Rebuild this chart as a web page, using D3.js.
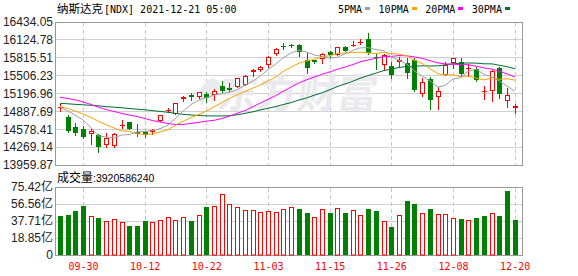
<!DOCTYPE html>
<html>
<head>
<meta charset="utf-8">
<script src="https://cdn.jsdelivr.net/npm/d3@7/dist/d3.min.js"></script>
<style>
  html, body { margin: 0; padding: 0; background: #fff; }
  svg { display: block; }
</style>
</head>
<body>
<div id="chart"></div>
<script>
// trading days on the chart (2021)
const dates = ['09-27','09-28','09-29','09-30','10-01','10-04','10-05','10-06','10-07','10-08',
  '10-11','10-12','10-13','10-14','10-15','10-18','10-19','10-20','10-21','10-22',
  '10-25','10-26','10-27','10-28','10-29','11-01','11-02','11-03','11-04','11-05',
  '11-08','11-09','11-10','11-11','11-12','11-15','11-16','11-17','11-18','11-19',
  '11-22','11-23','11-24','11-26','11-29','11-30','12-01','12-02','12-03','12-06',
  '12-07','12-08','12-09','12-10','12-13','12-14','12-15','12-16','12-17','12-20'];

const opens = [14946.1,14785.2,14617.3,14582.7,14501.4,14484.1,14305.9,14293.8,14629.5,14698.7,
  14536,14525.6,14536,14726.3,14889,14850.9,15101.8,15171,15131.2,15183.1,
  15165.8,15326.7,15292.1,15314.6,15349.2,15563.8,15603.6,15690.1,15875.2,16024,
  16030.9,16041.3,15781.8,15776.6,15799.1,15915,15868.3,16006.7,16024,16065.5,
  16139.9,15823.3,15698.7,15669.3,15747.2,15728.1,15776.6,15193.5,15447.8,15131.2,
  15517.1,15719.5,15742,15615.7,15620.9,15228.1,15245.4,15633,15062,14951.3];
const highs = [15015.3,14819.8,14686.6,14639.8,14587.9,14496.2,14508.3,14508.3,14743.7,14709,
  14669.3,14536,14582.7,14819.8,14946.1,15037.8,15158.9,15200.4,15222.9,15217.7,
  15274.8,15408,15378.6,15465.1,15517.1,15626.1,15678,15845.8,15984.2,16065.5,
  16053.4,16053.4,15892.5,15781.8,15902.9,15937.5,16006.7,16018.8,16100.1,16139.9,
  16243.7,15902.9,15885.6,15736.8,15831.9,15819.8,15806,15460,15477.3,15314.6,
  15736.8,15811.2,15816.4,15702.2,15655.5,15326.7,15603.6,15660.7,15286.9,15015.3];
const lows = [14889,14530.8,14473.7,14432.2,14328.4,14179.6,14271.3,14271.3,14600,14577.6,
  14466.8,14444.3,14496.2,14716,14876.9,14845.7,15072.4,15089.7,15113.9,15049.9,
  15089.7,15217.7,15245.4,15304.2,15338.8,15494.6,15591.4,15650.3,15857.9,15966.9,
  15996.3,15851,15556.8,15719.5,15724.7,15833.7,15857.9,15927.1,16015.3,16053.4,
  15880.4,15626.1,15608.8,15470.3,15658.9,15468.6,15245.4,15153.7,14923.6,14923.6,
  15517.1,15643.4,15517.1,15499.7,15413.2,15101.8,15072.4,15124.3,14958.2,14864.8];
const closes = [14968.6,14553.3,14513.5,14444.3,14553.3,14266.1,14427,14496.2,14651.9,14587.9,
  14496.2,14473.7,14560.2,14819.8,14911.5,15027.4,15136.4,15131.2,15217.7,15119.1,
  15245.4,15247.1,15252.3,15460,15499.7,15603.6,15660.7,15823.3,15966.9,16015.3,
  16018.8,15915,15643.4,15736.8,15880.4,15863.1,15996.3,15937.5,16041.3,16088,
  15892.5,15811.2,15863.1,15508.4,15785.2,15555.1,15257.5,15395.9,15084.5,15245.4,
  15690.1,15811.2,15529.2,15633,15430.5,15245.4,15586.3,15188.3,15171,14980.7];
// close of the day before the first candle (only sets the first volume bar colour)
const prevClose = 15010;

// volume, in 亿 (1e8)
const lastVolume = 3920586240;
const volumes = [43.3,44.4,48.8,54.3,42.9,40.7,37.4,39.6,36.6,32.2,
  32.2,37.7,36.6,38.5,41.8,38.8,41.8,37.7,44,53.2,
  54,67.7,56.6,52.9,49.6,49.6,47.4,48.5,47.4,50.7,
  52.9,51,46.6,41.8,50.7,46.6,51.8,46.6,49.6,44,
  51,48.8,37.4,31,44,59.9,56.6,46.2,51,45.1,
  45.1,40.7,39.9,38.5,41,43.3,46.6,43.3,71,lastVolume / 1e8];

// moving averages as drawn
const ma5 = [14958,14894,14825,14739,14607,14467,14441,14437,14479,14486,
  14533,14541,14553,14588,14652,14759,14891,15005,15085,15126,
  15169,15192,15216,15264,15341,15413,15495,15609,15711,15813,
  15896,15948,15912,15865,15839,15808,15823,15882,15944,15986,
  15991,15955,15939,15832,15771,15704,15593,15500,15415,15308,
  15335,15446,15472,15581,15619,15529,15484,15417,15325,15235];
const ma10 = [14972,14937,14894,14842,14782,14721,14657,14600,14548,14546,
  14500,14491,14496,14533,14569,14645,14716,14780,14835,14889,
  14963,15041,15110,15174,15233,15290,15344,15413,15488,15578,
  15654,15721,15761,15789,15827,15853,15886,15898,15905,15912,
  15899,15889,15912,15887,15879,15848,15773,15720,15624,15540,
  15519,15519,15486,15498,15463,15432,15465,15444,15453,15427];
const ma20 = [15131,15110,15088,15050,15007,14963,14920,14886,14851,14825,
  14799,14764,14730,14704,14678,14661,14661,14678,14699,14718,
  14732,14766,14802,14854,14901,14969,15029,15097,15162,15233,
  15309,15382,15436,15481,15529,15572,15614,15656,15697,15745,
  15777,15806,15835,15839,15853,15849,15830,15808,15764,15726,
  15709,15704,15699,15694,15671,15640,15619,15583,15538,15482];
const ma30 = [15027,15019,15010,15001,14993,14984,14970,14960,14950,14937,
  14925,14915,14901,14887,14872,14854,14837,14825,14816,14811,
  14808,14808,14811,14828,14854,14880,14911,14941,14972,15005,
  15039,15085,15123,15166,15209,15263,15315,15363,15410,15460,
  15507,15550,15595,15617,15647,15664,15668,15676,15673,15676,
  15692,15711,15720,15725,15723,15711,15709,15687,15661,15626];

const priceTicks = [16434.05,16124.78,15815.51,15506.23,15196.96,14887.69,14578.41,14269.14,13959.87];
const volTicks = [75.42,56.56,37.71,18.85,0];
const xTickLabels = ['09-30','10-12','10-22','11-03','11-15','11-26','12-08','12-20'];
const maNames = ['5PMA','10PMA','20PMA','30PMA'];

const W = 578, H = 276;
const left = 56, right = 522;
const RED = '#ff0000', GREEN = '#008000';
const maColors = ['#a0a0a0', '#f2a500', '#ff00ff', '#006f30'];
const maSeries = [ma5, ma10, ma20, ma30];
const monoFont = '"DejaVu Sans Mono", monospace';
const cjkFont = '"Noto Sans CJK SC", sans-serif';
const numFont = '"Liberation Sans", "Noto Sans CJK SC", sans-serif';

const data = dates.map((d, i) => ({
  date: d, open: opens[i], high: highs[i], low: lows[i], close: closes[i],
  vol: volumes[i], volUp: closes[i] >= (i ? closes[i - 1] : prevClose)
}));

const svg = d3.select('#chart').append('svg').attr('width', W).attr('height', H);
svg.append('rect').attr('width', W).attr('height', H).attr('fill', '#fff');

const x = d3.scaleBand().domain(dates).range([left, 518.5]).paddingInner(0.35).paddingOuter(0.175);
const y = d3.scaleLinear().domain([priceTicks[priceTicks.length - 1], priceTicks[0]]).range([165, 22]);
const vy = d3.scaleLinear().domain([0, volTicks[0]]).range([255, 187]);
const px = v => Math.floor(v) + 0.5;
const cx = d => Math.round(x(d) + x.bandwidth() / 2) + 0.5;

// grid
const grid = svg.append('g').attr('class', 'grid');
grid.selectAll('.hp').data(priceTicks.slice(1, -1)).join('line')
  .attr('x1', left).attr('x2', right)
  .attr('y1', d => px(y(d))).attr('y2', d => px(y(d)))
  .attr('stroke', '#d0d0d0');
grid.selectAll('.hv').data(volTicks.slice(1, -1)).join('line')
  .attr('x1', left).attr('x2', right)
  .attr('y1', d => px(vy(d))).attr('y2', d => px(vy(d)))
  .attr('stroke', '#d0d0d0');
[[22, 165], [187, 255]].forEach(([t, b]) => {
  grid.append('g').selectAll('line').data(xTickLabels).join('line')
    .attr('x1', d => cx(d)).attr('x2', d => cx(d))
    .attr('y1', t + 1).attr('y2', b)
    .attr('stroke', '#c8c8c8').attr('stroke-dasharray', '4,3');
});

// watermark
const mark = svg.append('g').attr('class', 'watermark').attr('fill', '#e9e9ee');
mark.append('path')
  .attr('d', 'M212,78 C200,84 196,96 202,106 C204,98 208,92 214,88 C210,94 209,100 212,104 C214,96 218,90 222,86 C220,82 216,79 212,78 Z');
mark.append('text')
  .attr('x', 217).attr('y', 108)
  .attr('transform', 'skewX(-8) translate(14,0)')
  .style('font-family', cjkFont).style('font-weight', 'bold').style('font-size', '40px')
  .text('东方财富');

// panel borders
svg.append('rect').attr('x', px(left - 1)).attr('y', px(22)).attr('width', right - left + 1).attr('height', 143)
  .attr('fill', 'none').attr('stroke', '#999');
svg.append('rect').attr('x', px(left - 1)).attr('y', px(187)).attr('width', right - left + 1).attr('height', 68)
  .attr('fill', 'none').attr('stroke', '#999');

// candles
const candles = svg.append('g').attr('class', 'candles').selectAll('g').data(data).join('g');
candles.append('line')
  .attr('x1', d => cx(d.date)).attr('x2', d => cx(d.date))
  .attr('y1', d => Math.round(y(d.high))).attr('y2', d => Math.round(y(d.low)) + 1)
  .attr('stroke', d => d.close >= d.open ? RED : GREEN);
candles.each(function(d) {
  const g = d3.select(this);
  const c = cx(d.date);
  const top = Math.round(y(Math.max(d.open, d.close)));
  const bot = Math.round(y(Math.min(d.open, d.close)));
  if (d.close >= d.open) {
    if (bot - top < 2) {
      g.append('line').attr('x1', c - 2.5).attr('x2', c + 2.5)
        .attr('y1', top + 0.5).attr('y2', top + 0.5).attr('stroke', RED);
    } else {
      g.append('rect').attr('x', c - 2).attr('y', top + 0.5)
        .attr('width', 4).attr('height', bot - top - 1)
        .attr('fill', '#fff').attr('stroke', RED);
    }
  } else {
    g.append('rect').attr('x', c - 2.5).attr('y', top)
      .attr('width', 5).attr('height', Math.max(bot - top, 1))
      .attr('fill', GREEN);
  }
});

// moving averages
const line = d3.line().x((v, i) => cx(dates[i]) - 0.5).y(v => y(v));
svg.append('g').attr('class', 'ma').selectAll('path')
  .data(maSeries.map((s, i) => ({ s, i })).reverse()).join('path')
  .attr('d', d => line(d.s))
  .attr('fill', 'none').attr('stroke', d => maColors[d.i]).attr('stroke-width', 1);

// volume bars
const bars = svg.append('g').attr('class', 'vol').selectAll('g').data(data).join('g');
bars.each(function(d) {
  const g = d3.select(this);
  const c = cx(d.date);
  const top = Math.round(vy(d.vol));
  if (d.volUp) {
    g.append('rect').attr('x', c - 2).attr('y', top + 0.5)
      .attr('width', 4).attr('height', 255 - top - 0.5)
      .attr('fill', '#fff').attr('stroke', RED);
  } else {
    g.append('rect').attr('x', c - 2.5).attr('y', top)
      .attr('width', 5).attr('height', 255 - top)
      .attr('fill', GREEN);
  }
});

// axes
const yAxis = d3.axisLeft(y).tickValues(priceTicks).tickSize(0).tickPadding(3)
  .tickFormat(d => d.toFixed(2));
svg.append('g').attr('transform', `translate(${left},0)`).call(yAxis)
  .call(g => g.select('.domain').remove())
  .selectAll('text')
  .style('font-family', numFont).style('font-size', '12px').attr('fill', '#222');

const vAxis = d3.axisLeft(vy).tickValues(volTicks).tickSize(0).tickPadding(3)
  .tickFormat(d => d === 0 ? '0' : d.toFixed(2) + '亿');
svg.append('g').attr('transform', `translate(${left},0)`).call(vAxis)
  .call(g => g.select('.domain').remove())
  .selectAll('text')
  .style('font-family', numFont).style('font-size', '12px').attr('fill', '#222');

const xAxis = d3.axisBottom(x).tickValues(xTickLabels).tickSize(0);
svg.append('g').attr('transform', 'translate(0.5,0)').call(xAxis)
  .call(g => g.select('.domain').remove())
  .selectAll('text')
  .attr('y', 270).attr('dy', 0)
  .style('font-family', monoFont).style('font-size', '10px').attr('fill', RED);

// title
const title = svg.append('text').attr('x', 57).attr('y', 13).attr('fill', '#000');
title.append('tspan').style('font-family', cjkFont).style('font-size', '11.5px').text('纳斯达克');
title.append('tspan').attr('dx', 1).style('font-family', monoFont).style('font-size', '10px').text('[NDX] 2021-12-21 05:00');

// legend
const legend = svg.append('g').attr('class', 'legend');
let lx = 338;
maNames.forEach((name, i) => {
  const t = legend.append('text').attr('x', lx).attr('y', 12.5)
    .style('font-family', monoFont).style('font-size', '10px').attr('fill', '#000')
    .text(name);
  const w = t.node().getComputedTextLength();
  legend.append('rect').attr('x', Math.round(lx + w + 3)).attr('y', 7)
    .attr('width', 5).attr('height', 3).attr('fill', maColors[i]);
  lx += w + 16.5;
});

// volume header
const vt = svg.append('text').attr('x', 57).attr('y', 181.5).attr('fill', '#000');
vt.append('tspan').style('font-family', cjkFont).style('font-size', '12px').text('成交量');
vt.append('tspan').style('font-family', numFont).style('font-size', '10.5px').text(':' + lastVolume);
</script>
</body>
</html>
